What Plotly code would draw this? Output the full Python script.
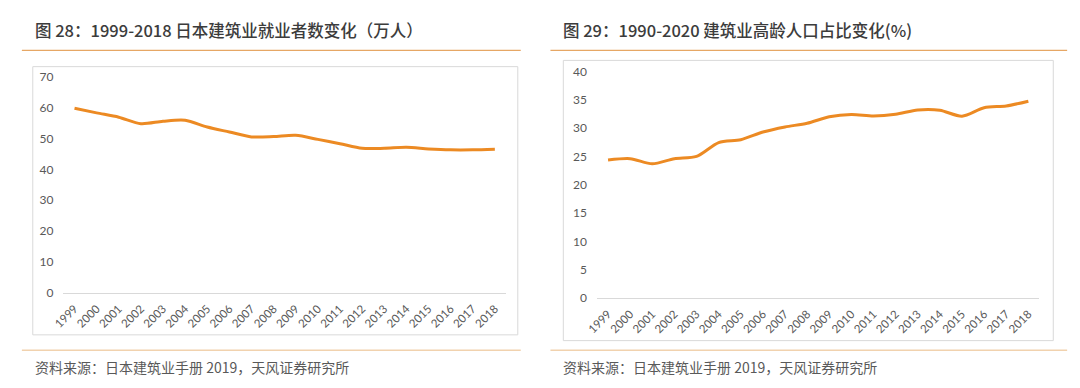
import plotly.graph_objects as go

W, H = 1080, 388

years = [str(y) for y in range(1999, 2019)]
employment = [59.9, 58.4, 57.0, 54.9, 55.7, 56.0, 53.8, 52.2, 50.6, 50.7,
              51.1, 49.8, 48.4, 46.9, 46.9, 47.2, 46.7, 46.4, 46.4, 46.6]
elderly_share = [24.35, 24.6, 23.7, 24.6, 25.0, 27.45, 27.95, 29.3, 30.2, 30.85,
                 32.0, 32.4, 32.15, 32.45, 33.2, 33.15, 32.1, 33.6, 33.9, 34.75]

title_left = "图 28：1999-2018 日本建筑业就业者数变化（万人）"
title_right = "图 29：1990-2020 建筑业高龄人口占比变化(%)"
source_text = "资料来源：日本建筑业手册 2019，天风证券研究所"

ORANGE = "#EC8A23"
TICK_COLOR = "#595959"
BORDER = "#d9d9d9"
RULE_TOP = "#E6A765"
RULE_BOT = "#F1D2AE"
CJK = "Noto Sans CJK SC"
NUMFONT = "Lato, Open Sans, sans-serif"


def px(x):
    return x / W


def py(y):
    return 1 - y / H


fig = go.Figure()
fig.add_trace(go.Scatter(
    x=years, y=employment, mode="lines", xaxis="x", yaxis="y",
    line=dict(color=ORANGE, width=3, shape="spline", smoothing=0.8),
    showlegend=False, hoverinfo="skip"))
fig.add_trace(go.Scatter(
    x=years, y=elderly_share, mode="lines", xaxis="x2", yaxis="y2",
    line=dict(color=ORANGE, width=3, shape="spline", smoothing=0.8),
    showlegend=False, hoverinfo="skip"))

xcommon = dict(type="category", range=[-0.5, len(years) - 0.5], showline=True,
               linecolor=BORDER, linewidth=1, showgrid=False, zeroline=False,
               ticks="", tickangle=-45, ticklabelstandoff=4,
               tickfont=dict(family=NUMFONT, size=11.5, color=TICK_COLOR))
ycommon = dict(showgrid=False, showline=False, zeroline=False, ticks="",
               ticklabelstandoff=9,
               tickfont=dict(family=NUMFONT, size=12, color=TICK_COLOR))

fig.update_layout(
    width=W, height=H, margin=dict(l=0, r=0, t=0, b=0),
    paper_bgcolor="white", plot_bgcolor="white",
    xaxis=dict(domain=[px(53), px(500)], anchor="y", **xcommon),
    yaxis=dict(domain=[py(296), py(72)], anchor="x", range=[0, 70], dtick=10, **ycommon),
    xaxis2=dict(domain=[px(592), px(1039)], anchor="y2", **xcommon),
    yaxis2=dict(domain=[py(301.7), py(66)], anchor="x2", range=[0, 40], dtick=5, **ycommon),
)

shapes = [
    # chart frames
    dict(type="rect", xref="paper", yref="paper", x0=px(22), x1=px(512), y0=py(340), y1=py(61),
         line=dict(color=BORDER, width=1), fillcolor="rgba(0,0,0,0)", layer="below"),
    dict(type="rect", xref="paper", yref="paper", x0=px(558), x1=px(1053), y0=py(346), y1=py(54.5),
         line=dict(color=BORDER, width=1), fillcolor="rgba(0,0,0,0)", layer="below"),
    # title rules
    dict(type="line", xref="paper", yref="paper", x0=px(11), x1=px(515), y0=py(44), y1=py(44),
         line=dict(color=RULE_TOP, width=1.2)),
    dict(type="line", xref="paper", yref="paper", x0=px(545), x1=px(1067), y0=py(44), y1=py(44),
         line=dict(color=RULE_TOP, width=1.2)),
    # source rules
    dict(type="line", xref="paper", yref="paper", x0=px(11), x1=px(515), y0=py(356), y1=py(356),
         line=dict(color=RULE_BOT, width=1.5)),
    dict(type="line", xref="paper", yref="paper", x0=px(545), x1=px(1067), y0=py(356), y1=py(356),
         line=dict(color=RULE_BOT, width=1.5)),
]
fig.update_layout(shapes=shapes)

annotations = [
    dict(text=title_left, x=px(22), y=py(23), xref="paper", yref="paper",
         xanchor="left", yanchor="middle", showarrow=False,
         font=dict(family=CJK, size=16.5, color="#3c3c3c", weight=500)),
    dict(text=title_right, x=px(556), y=py(23), xref="paper", yref="paper",
         xanchor="left", yanchor="middle", showarrow=False,
         font=dict(family=CJK, size=16.5, color="#3c3c3c", weight=500)),
    dict(text=source_text, x=px(22), y=py(373), xref="paper", yref="paper",
         xanchor="left", yanchor="middle", showarrow=False,
         font=dict(family=CJK, size=14, color="#595959")),
    dict(text=source_text, x=px(556), y=py(373), xref="paper", yref="paper",
         xanchor="left", yanchor="middle", showarrow=False,
         font=dict(family=CJK, size=14, color="#595959")),
]
fig.update_layout(annotations=annotations)

reset_js = (
    "var s=document.createElement('style');"
    "s.textContent='html,body{margin:0!important;padding:0!important;overflow:hidden;}';"
    "document.head.appendChild(s);"
)
fig.write_html("out.html", config={"displayModeBar": False}, post_script=reset_js)
